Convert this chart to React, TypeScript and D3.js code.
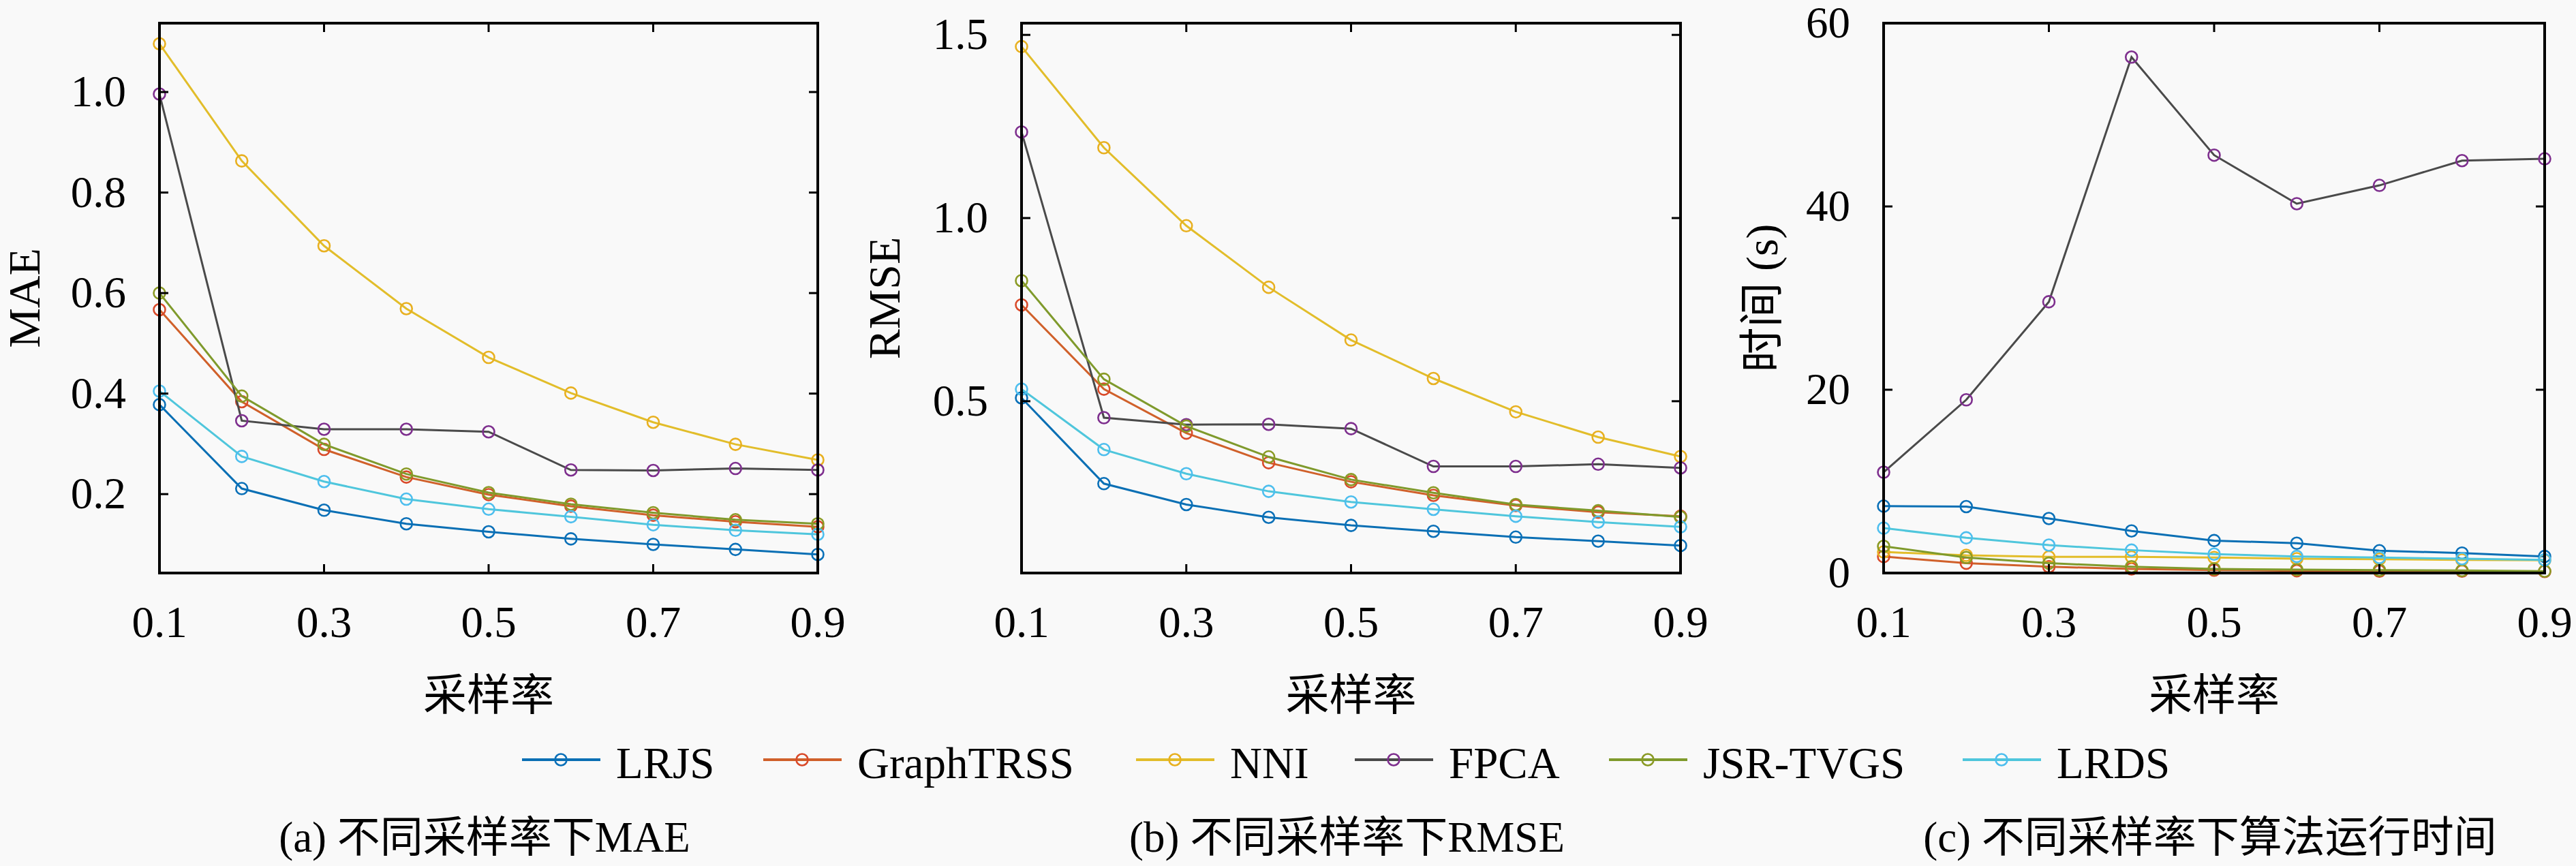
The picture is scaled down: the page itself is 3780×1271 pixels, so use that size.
import * as d3 from 'd3';

// sampling rates on the x axis
const sampleRates = [0.1, 0.2, 0.3, 0.4, 0.5, 0.6, 0.7, 0.8, 0.9];
const xTicks = [0.1, 0.3, 0.5, 0.7, 0.9];
const methods = ['LRJS', 'GraphTRSS', 'NNI', 'FPCA', 'JSR-TVGS', 'LRDS'];

// (a) MAE
const maeLRJS = [0.378, 0.211, 0.168, 0.141, 0.125, 0.111, 0.1, 0.09, 0.08];
const maeGraphTRSS = [0.567, 0.384, 0.289, 0.234, 0.199, 0.176, 0.158, 0.145, 0.135];
const maeNNI = [1.096, 0.863, 0.694, 0.569, 0.472, 0.401, 0.343, 0.299, 0.268];
const maeFPCA = [0.996, 0.346, 0.329, 0.329, 0.324, 0.248, 0.247, 0.251, 0.248];
const maeJSRTVGS = [0.6, 0.395, 0.299, 0.24, 0.203, 0.18, 0.163, 0.149, 0.141];
const maeLRDS = [0.405, 0.275, 0.225, 0.19, 0.17, 0.155, 0.139, 0.128, 0.12];

// (b) RMSE
const rmseLRJS = [0.509, 0.275, 0.218, 0.183, 0.161, 0.145, 0.129, 0.118, 0.106];
const rmseGraphTRSS = [0.763, 0.533, 0.413, 0.332, 0.28, 0.243, 0.215, 0.197, 0.186];
const rmseNNI = [1.468, 1.192, 0.979, 0.811, 0.667, 0.562, 0.471, 0.402, 0.349];
const rmseFPCA = [1.235, 0.455, 0.436, 0.437, 0.425, 0.322, 0.322, 0.328, 0.318];
const rmseJSRTVGS = [0.829, 0.56, 0.432, 0.348, 0.286, 0.25, 0.218, 0.201, 0.184];
const rmseLRDS = [0.533, 0.368, 0.302, 0.254, 0.225, 0.205, 0.186, 0.17, 0.157];

// (c) running time (s)
const timeLRJS = [7.3, 7.25, 5.95, 4.59, 3.54, 3.25, 2.43, 2.18, 1.81];
const timeGraphTRSS = [1.8, 1.07, 0.69, 0.45, 0.32, 0.25, 0.2, 0.2, 0.17];
const timeNNI = [2.3, 1.93, 1.76, 1.76, 1.69, 1.56, 1.51, 1.44, 1.39];
const timeFPCA = [11.0, 18.9, 29.6, 56.3, 45.6, 40.3, 42.3, 45.0, 45.2];
const timeJSRTVGS = [2.92, 1.69, 1.07, 0.69, 0.45, 0.37, 0.32, 0.27, 0.2];
const timeLRDS = [4.9, 3.84, 3.05, 2.5, 2.06, 1.81, 1.69, 1.56, 1.44];

const maeTicks = [0.2, 0.4, 0.6, 0.8, 1.0];
const rmseTicks = [0.5, 1.0, 1.5];
const timeTicks = [0, 20, 40, 60];

const lineColors = ['#0a6fb4', '#d0602a', '#e2bd2a', '#4a4a4a', '#7f9a2c', '#4fc6dc'];
const markerColors = ['#0a70b8', '#d94a2a', '#e8b020', '#7e2f8e', '#8a9a24', '#4dbeee'];

const FONT = "'Liberation Serif', 'Noto Sans CJK SC', serif";
const W = 3780;
const H = 1271;
const TOP = 34;
const BOTTOM = 841;

const panels = [
  {
    left: 234, right: 1200, domain: [0.043, 1.137], ticks: maeTicks, fmt: d3.format('.1f'),
    series: [maeLRJS, maeGraphTRSS, maeNNI, maeFPCA, maeJSRTVGS, maeLRDS],
    ylabel: 'MAE', ylabelX: 58, caption: '(a) 不同采样率下MAE',
  },
  {
    left: 1499, right: 2466, domain: [0.031, 1.532], ticks: rmseTicks, fmt: d3.format('.1f'),
    series: [rmseLRJS, rmseGraphTRSS, rmseNNI, rmseFPCA, rmseJSRTVGS, rmseLRDS],
    ylabel: 'RMSE', ylabelX: 1320, caption: '(b) 不同采样率下RMSE',
  },
  {
    left: 2764, right: 3734, domain: [0, 60], ticks: timeTicks, fmt: d3.format('d'),
    series: [timeLRJS, timeGraphTRSS, timeNNI, timeFPCA, timeJSRTVGS, timeLRDS],
    ylabel: '时间 (s)', ylabelX: 2608, caption: '(c) 不同采样率下算法运行时间',
  },
];

// legend line start positions
const legendX = [766, 1120, 1667, 1988, 2361, 2880];

function Panel({ p }: { p: typeof panels[number] }) {
  const x = d3.scaleLinear().domain([0.1, 0.9]).range([p.left, p.right]);
  const y = d3.scaleLinear().domain(p.domain).range([BOTTOM, TOP]);
  const line = d3.line<number>()
    .x((_, i) => x(sampleRates[i]))
    .y(d => y(d));
  const cx = (p.left + p.right) / 2;
  const tickLen = 13;

  return (
    <g>
      {/* series */}
      {p.series.map((s, k) => (
        <g key={k}>
          <path d={line(s) ?? ''} fill="none" stroke={lineColors[k]} strokeWidth={3} />
          {s.map((v, i) => (
            <circle key={i} cx={x(sampleRates[i])} cy={y(v)} r={8.5}
              fill="none" stroke={markerColors[k]} strokeWidth={2.6} />
          ))}
        </g>
      ))}

      {/* box */}
      <rect x={p.left} y={TOP} width={p.right - p.left} height={BOTTOM - TOP}
        fill="none" stroke="#000" strokeWidth={4} />

      {/* x ticks */}
      {xTicks.map(t => (
        <g key={t}>
          <line x1={x(t)} x2={x(t)} y1={BOTTOM} y2={BOTTOM - tickLen} stroke="#000" strokeWidth={3} />
          <line x1={x(t)} x2={x(t)} y1={TOP} y2={TOP + tickLen} stroke="#000" strokeWidth={3} />
          <text x={x(t)} y={935} textAnchor="middle" fontSize={65} fontFamily={FONT}>{t.toFixed(1)}</text>
        </g>
      ))}

      {/* y ticks */}
      {p.ticks.map(t => (
        <g key={t}>
          <line x1={p.left} x2={p.left + tickLen} y1={y(t)} y2={y(t)} stroke="#000" strokeWidth={3} />
          <line x1={p.right} x2={p.right - tickLen} y1={y(t)} y2={y(t)} stroke="#000" strokeWidth={3} />
          <text x={p.left - 49} y={y(t) + 21} textAnchor="end" fontSize={65} fontFamily={FONT}>{p.fmt(t)}</text>
        </g>
      ))}

      {/* axis labels */}
      <text x={cx} y={1042} textAnchor="middle" fontSize={64} fontFamily={FONT}>采样率</text>
      <text transform={`translate(${p.ylabelX},${(TOP + BOTTOM) / 2}) rotate(-90)`}
        textAnchor="middle" fontSize={66} fontFamily={FONT}>{p.ylabel}</text>

      {/* caption */}
      <text x={cx - 6} y={1250} textAnchor="middle" fontSize={63} fontFamily={FONT}>{p.caption}</text>
    </g>
  );
}

export default function App() {
  return (
    <svg width={W} height={H} style={{ position: 'absolute', left: 0, top: 0, background: '#f9f9f9' }}>
      <rect width={W} height={H} fill="#f9f9f9" />
      {panels.map((p, i) => <Panel key={i} p={p} />)}

      {/* legend */}
      {methods.map((m, k) => (
        <g key={m}>
          <line x1={legendX[k]} x2={legendX[k] + 115} y1={1115} y2={1115}
            stroke={lineColors[k]} strokeWidth={4} />
          <circle cx={legendX[k] + 57} cy={1115} r={8.5} fill="none"
            stroke={markerColors[k]} strokeWidth={2.6} />
          <text x={legendX[k] + 138} y={1142} fontSize={65} fontFamily={FONT}>{m}</text>
        </g>
      ))}
    </svg>
  );
}
